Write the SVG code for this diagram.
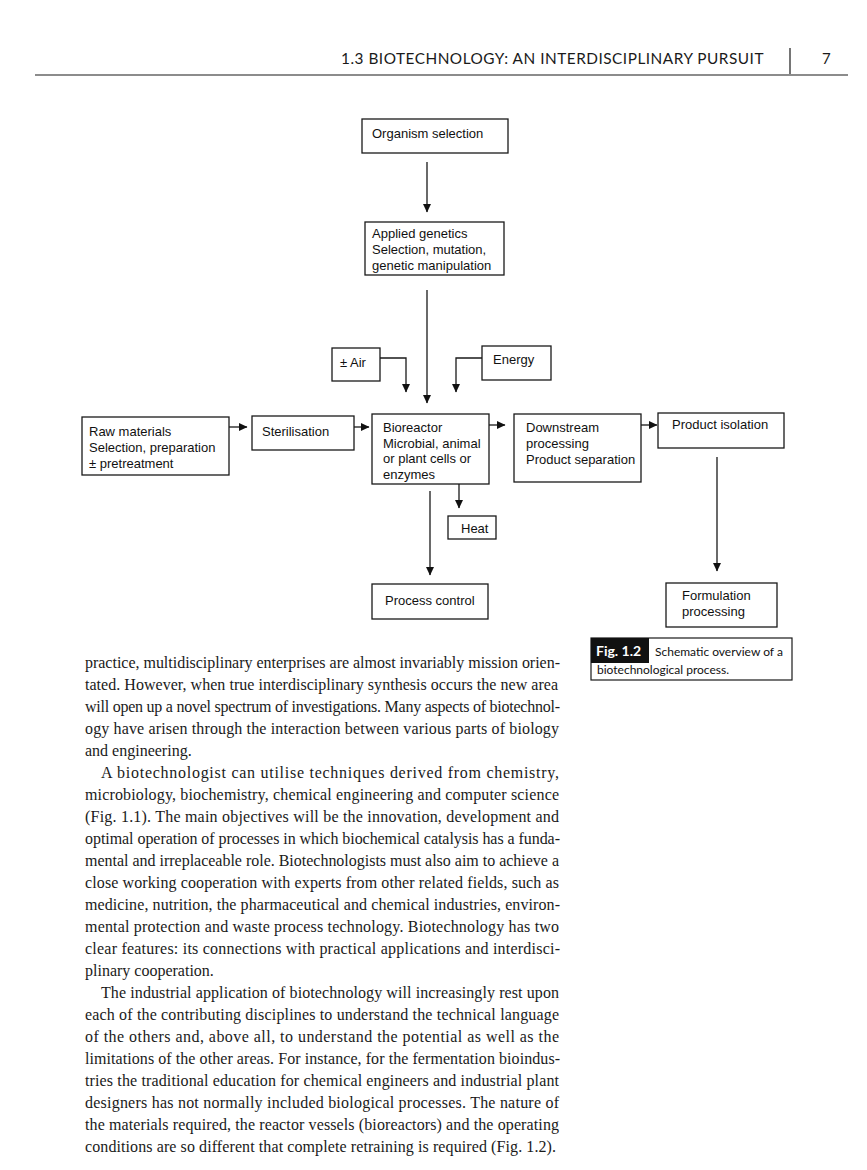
<svg xmlns="http://www.w3.org/2000/svg" width="867" height="1170" viewBox="0 0 867 1170">
<style>
.box{fill:#fff;stroke:#1a1a1a;stroke-width:1.3}
.lbl{font-family:"Liberation Sans",Arial,sans-serif;font-size:13px;fill:#111}
.con{fill:none;stroke:#1a1a1a;stroke-width:1.3}
.body{font-family:"Liberation Serif","Times New Roman",serif;font-size:16px;fill:#1a1a1a}
.hdr{font-family:Lato,"Open Sans",sans-serif;font-size:15px;fill:#1a1a1a;letter-spacing:0.5px}
.cap{font-family:Lato,"Open Sans",sans-serif;font-size:12px;fill:#111}
</style>
<defs>
<marker id="ah" markerWidth="9" markerHeight="9" refX="8" refY="4.5" orient="auto" markerUnits="userSpaceOnUse">
<path d="M0,0.5 L8.5,4.5 L0,8.5 Z" fill="#111"/>
</marker>
</defs>
<rect width="867" height="1170" fill="#fff"/>
<g id="header">
<text class="hdr" x="341" y="64" textLength="423" lengthAdjust="spacingAndGlyphs">1.3 BIOTECHNOLOGY: AN INTERDISCIPLINARY PURSUIT</text>
<line x1="790" y1="48" x2="790" y2="74" stroke="#1a1a1a" stroke-width="1.2"/>
<text class="hdr" x="822" y="64">7</text>
<line x1="35" y1="75" x2="848" y2="75" stroke="#1a1a1a" stroke-width="1.2"/>
</g>
<g id="connectors">
<path class="con" d="M427,162 V212" marker-end="url(#ah)"/>
<path class="con" d="M427,290 V403" marker-end="url(#ah)"/>
<path class="con" d="M380,358 H406 V392" marker-end="url(#ah)"/>
<path class="con" d="M482,358 H456 V392" marker-end="url(#ah)"/>
<path class="con" d="M229,427 H247" marker-end="url(#ah)"/>
<path class="con" d="M354,427 H369" marker-end="url(#ah)"/>
<path class="con" d="M489,425 H505" marker-end="url(#ah)"/>
<path class="con" d="M641,425 H657" marker-end="url(#ah)"/>
<path class="con" d="M717,457 V571" marker-end="url(#ah)"/>
<path class="con" d="M459,484 V508" marker-end="url(#ah)"/>
<path class="con" d="M430,491 V575" marker-end="url(#ah)"/>
</g>
<g id="organism">
<rect class="box" x="362" y="119" width="146" height="34"/>
<text class="lbl" x="372" y="138">Organism selection</text>
</g>
<g id="genetics">
<rect class="box" x="365" y="222" width="139" height="53"/>
<text class="lbl" x="372" y="238">Applied genetics</text>
<text class="lbl" x="372" y="254">Selection, mutation,</text>
<text class="lbl" x="372" y="270">genetic manipulation</text>
</g>
<g id="air">
<rect class="box" x="332" y="348" width="48" height="33"/>
<text class="lbl" x="340" y="367">± Air</text>
</g>
<g id="energy">
<rect class="box" x="482" y="346" width="69" height="34"/>
<text class="lbl" x="493" y="364">Energy</text>
</g>
<g id="raw">
<rect class="box" x="82" y="417" width="147" height="58"/>
<text class="lbl" x="89" y="436">Raw materials</text>
<text class="lbl" x="89" y="452">Selection, preparation</text>
<text class="lbl" x="89" y="468">± pretreatment</text>
</g>
<g id="sterilisation">
<rect class="box" x="252" y="416" width="102" height="34"/>
<text class="lbl" x="262" y="436">Sterilisation</text>
</g>
<g id="bioreactor">
<rect class="box" x="372" y="414" width="117" height="70"/>
<text class="lbl" x="383" y="432">Bioreactor</text>
<text class="lbl" x="383" y="447.5">Microbial, animal</text>
<text class="lbl" x="383" y="463">or plant cells or</text>
<text class="lbl" x="383" y="478.5">enzymes</text>
</g>
<g id="downstream">
<rect class="box" x="514" y="414" width="127" height="68"/>
<text class="lbl" x="526" y="432">Downstream</text>
<text class="lbl" x="526" y="448">processing</text>
<text class="lbl" x="526" y="464">Product separation</text>
</g>
<g id="isolation">
<rect class="box" x="658" y="413" width="126" height="35"/>
<text class="lbl" x="672" y="429">Product isolation</text>
</g>
<g id="formulation">
<rect class="box" x="666" y="583" width="111" height="44"/>
<text class="lbl" x="682" y="600">Formulation</text>
<text class="lbl" x="682" y="616">processing</text>
</g>
<g id="heat">
<rect class="box" x="448" y="516" width="48" height="23"/>
<text class="lbl" x="461" y="533">Heat</text>
</g>
<g id="process-control">
<rect class="box" x="372" y="584" width="116" height="35"/>
<text class="lbl" x="385" y="605">Process control</text>
</g>
<g id="caption">
<rect x="591" y="638" width="201" height="42" fill="#fff" stroke="#1a1a1a" stroke-width="1.2"/>
<rect x="591" y="638" width="58" height="25" fill="#111"/>
<text class="cap" x="596" y="656" style="fill:#fff;font-weight:bold;font-size:14px">Fig. 1.2</text>
<text class="cap" x="655" y="656">Schematic overview of a</text>
<text class="cap" x="597" y="674">biotechnological process.</text>
</g>
<g id="body-text" class="body">
<text x="85" y="668" textLength="475" lengthAdjust="spacing">practice, multidisciplinary enterprises are almost invariably mission orien-</text>
<text x="85" y="690" textLength="473" lengthAdjust="spacing">tated. However, when true interdisciplinary synthesis occurs the new area</text>
<text x="85" y="712" textLength="475" lengthAdjust="spacing">will open up a novel spectrum of investigations. Many aspects of biotechnol-</text>
<text x="85" y="734" textLength="474" lengthAdjust="spacing">ogy have arisen through the interaction between various parts of biology</text>
<text x="85" y="756">and engineering.</text>
<text x="101" y="778" textLength="458" lengthAdjust="spacing">A biotechnologist can utilise techniques derived from chemistry,</text>
<text x="85" y="800" textLength="474" lengthAdjust="spacing">microbiology, biochemistry, chemical engineering and computer science</text>
<text x="85" y="822" textLength="474" lengthAdjust="spacing">(Fig. 1.1). The main objectives will be the innovation, development and</text>
<text x="85" y="844" textLength="475" lengthAdjust="spacing">optimal operation of processes in which biochemical catalysis has a funda-</text>
<text x="85" y="866" textLength="474" lengthAdjust="spacing">mental and irreplaceable role. Biotechnologists must also aim to achieve a</text>
<text x="85" y="888" textLength="474" lengthAdjust="spacing">close working cooperation with experts from other related fields, such as</text>
<text x="85" y="910" textLength="475" lengthAdjust="spacing">medicine, nutrition, the pharmaceutical and chemical industries, environ-</text>
<text x="85" y="932" textLength="474" lengthAdjust="spacing">mental protection and waste process technology. Biotechnology has two</text>
<text x="85" y="954" textLength="475" lengthAdjust="spacing">clear features: its connections with practical applications and interdisci-</text>
<text x="85" y="976">plinary cooperation.</text>
<text x="101" y="998" textLength="458" lengthAdjust="spacing">The industrial application of biotechnology will increasingly rest upon</text>
<text x="85" y="1020" textLength="474" lengthAdjust="spacing">each of the contributing disciplines to understand the technical language</text>
<text x="85" y="1042" textLength="474" lengthAdjust="spacing">of the others and, above all, to understand the potential as well as the</text>
<text x="85" y="1064" textLength="475" lengthAdjust="spacing">limitations of the other areas. For instance, for the fermentation bioindus-</text>
<text x="85" y="1086" textLength="474" lengthAdjust="spacing">tries the traditional education for chemical engineers and industrial plant</text>
<text x="85" y="1108" textLength="474" lengthAdjust="spacing">designers has not normally included biological processes. The nature of</text>
<text x="85" y="1130" textLength="474" lengthAdjust="spacing">the materials required, the reactor vessels (bioreactors) and the operating</text>
<text x="85" y="1152" textLength="471" lengthAdjust="spacing">conditions are so different that complete retraining is required (Fig. 1.2).</text>
</g>
</svg>
